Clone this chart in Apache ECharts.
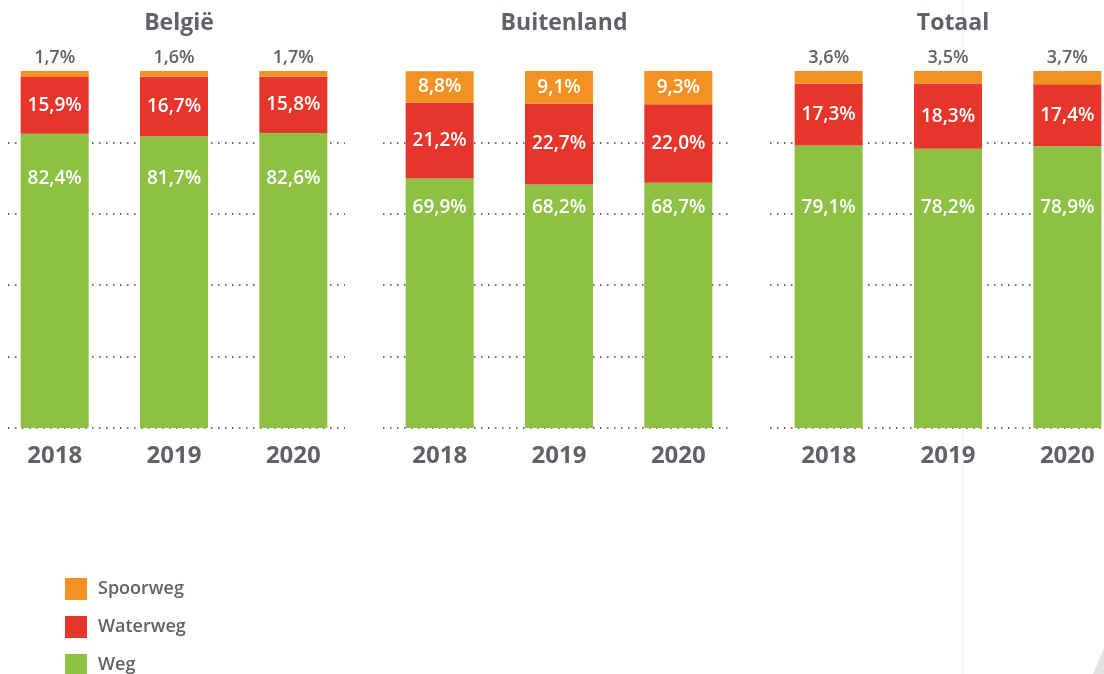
<!DOCTYPE html>
<html>
<head>
<meta charset="utf-8">
<script src="https://cdn.jsdelivr.net/npm/echarts@6/dist/echarts.min.js"></script>
<style>
  html, body { margin: 0; padding: 0; background: #fff; }
  #chart { width: 1104px; height: 674px; }
</style>
</head>
<body>
<div id="chart"></div>
<script>
// data
var years = ['2018', '2019', '2020'];
var groupTitles = ['België', 'Buitenland', 'Totaal'];

var belgieWeg = [82.4, 81.7, 82.6];
var belgieWater = [15.9, 16.7, 15.8];
var belgieSpoor = [1.7, 1.6, 1.7];

var buitenWeg = [69.9, 68.2, 68.7];
var buitenWater = [21.2, 22.7, 22.0];
var buitenSpoor = [8.8, 9.1, 9.3];

var totaalWeg = [79.1, 78.2, 78.9];
var totaalWater = [17.3, 18.3, 17.4];
var totaalSpoor = [3.6, 3.5, 3.7];

var chart = echarts.init(document.getElementById('chart'));

var FONT = '"Open Sans", sans-serif';
var GRAY = '#5f6369';
var C_SPOOR = '#f39223';
var C_WATER = '#e6352a';
var C_WEG = '#8dc043';

var plotTop = 71, plotH = 357;
// layout of each block (bar grid + dotted line grid)
var blocks = [
    { weg: belgieWeg, water: belgieWater, spoor: belgieSpoor, left: -5, lineLeft: 8, lineW: 337, spoorInside: false, wegLabelAt: 70 },
    { weg: buitenWeg, water: buitenWater, spoor: buitenSpoor, left: 380, lineLeft: 383, lineW: 349, spoorInside: true, wegLabelAt: 61.6 },
    { weg: totaalWeg, water: totaalWater, spoor: totaalSpoor, left: 769, lineLeft: 770, lineW: 349, spoorInside: false, wegLabelAt: 61.6 }
];
var barGridW = 358;

function fmt(v) {
    return v.toFixed(1).replace('.', ',') + '%';
}

var grids = [], xAxes = [], yAxes = [], series = [], titles = [];

blocks.forEach(function (b, i) {
    // bar grid
    grids.push({ left: b.left, top: plotTop, width: barGridW, height: plotH, outerBoundsMode: 'none', containLabel: false });
    // dotted line grid
    grids.push({ left: b.lineLeft, top: plotTop, width: b.lineW, height: plotH, outerBoundsMode: 'none', containLabel: false });

    var gBar = i * 2, gLine = i * 2 + 1;

    xAxes.push({
        type: 'category', gridIndex: gBar, data: years,
        axisLine: { show: false }, axisTick: { show: false },
        axisLabel: { color: GRAY, fontFamily: FONT, fontSize: 24, fontWeight: 'bold', margin: 16 }
    });
    yAxes.push({
        type: 'value', gridIndex: gBar, min: 0, max: 100, interval: 20,
        axisLabel: { show: false }, axisLine: { show: false }, axisTick: { show: false },
        splitLine: { show: false }
    });

    xAxes.push({ type: 'value', gridIndex: gLine, min: 0, max: 1, show: false });
    yAxes.push({
        type: 'value', gridIndex: gLine, min: 0, max: 100, interval: 20,
        axisLabel: { show: false }, axisLine: { show: false }, axisTick: { show: false },
        splitLine: {
            show: true, showMaxLine: false, showMinLine: true,
            lineStyle: { color: '#444', width: 1.5, type: [1.5, 5.5] }
        }
    });

    var inLabel = { show: true, color: '#fff', fontFamily: FONT, fontSize: 19, fontWeight: 600 };

    series.push({
        name: 'Weg', type: 'bar', stack: 'g' + i, barWidth: 68,
        xAxisIndex: xAxes.length - 2, yAxisIndex: yAxes.length - 2,
        itemStyle: { color: C_WEG },
        data: b.weg.map(function (v) {
            var dy = (v - b.wegLabelAt) / 100 * plotH;
            return {
                value: v,
                label: Object.assign({}, inLabel, {
                    position: ['50%', dy], align: 'center', verticalAlign: 'middle',
                    formatter: function () { return fmt(v); }
                })
            };
        })
    });
    series.push({
        name: 'Waterweg', type: 'bar', stack: 'g' + i, barWidth: 68,
        xAxisIndex: xAxes.length - 2, yAxisIndex: yAxes.length - 2,
        itemStyle: { color: C_WATER },
        label: Object.assign({}, inLabel, { position: 'inside', formatter: function (p) { return fmt(p.value); } }),
        data: b.water
    });
    series.push({
        name: 'Spoorweg', type: 'bar', stack: 'g' + i, barWidth: 68,
        xAxisIndex: xAxes.length - 2, yAxisIndex: yAxes.length - 2,
        itemStyle: { color: C_SPOOR },
        label: b.spoorInside
            ? Object.assign({}, inLabel, { position: 'inside', formatter: function (p) { return fmt(p.value); } })
            : { show: true, position: 'top', distance: 4, color: GRAY, fontFamily: FONT, fontSize: 18, fontWeight: 600,
                formatter: function (p) { return fmt(p.value); } },
        data: b.spoor
    });

    titles.push({
        text: groupTitles[i],
        left: b.left + barGridW / 2, top: 7, textAlign: 'center',
        textStyle: { color: GRAY, fontFamily: FONT, fontSize: 23, fontWeight: 'bold' }
    });
});

var option = {
    animation: false,
    title: titles,
    legend: {
        orient: 'vertical', left: 65, top: 578, height: 120, padding: 0,
        itemWidth: 22, itemHeight: 22, itemGap: 16,
        icon: 'rect',
        data: ['Spoorweg', 'Waterweg', 'Weg'],
        textStyle: { color: GRAY, fontFamily: FONT, fontSize: 18, fontWeight: 600, padding: [0, 0, 0, 6] }
    },
    grid: grids,
    xAxis: xAxes,
    yAxis: yAxes,
    series: series,
    graphic: [
        { type: 'line', shape: { x1: 963, y1: 0, x2: 963, y2: 674 }, style: { stroke: '#f1f1f1', lineWidth: 1 }, z: -1 },
        { type: 'polygon', shape: { points: [[1104, 648], [1104, 674], [1093, 674]] }, style: { fill: '#e2e2e5' } }
    ]
};

chart.setOption(option);
</script>
</body>
</html>
